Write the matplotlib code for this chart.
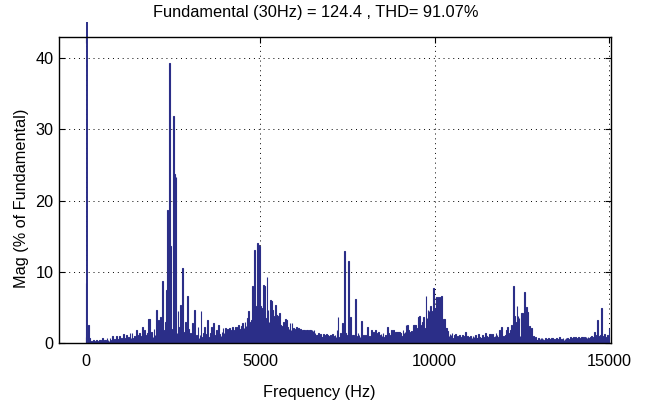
import matplotlib
matplotlib.use("Agg")
import matplotlib.pyplot as plt
import numpy as np
from matplotlib.patches import Rectangle

plt.rcParams["font.family"] = ["Liberation Sans", "DejaVu Sans"]

# harmonic magnitudes (% of fundamental), one value per 30 Hz bin, 0..15000 Hz
MAG = [
    8.5, 100, 2.6, 0.8, 0.3, 0.2, 0.3, 0.4, 0.2, 0.3,
    0.5, 0.3, 0.2, 0.5, 0.4, 0.3, 0.8, 0.3, 0.5, 0.4,
    0.8, 0.4, 0.3, 0.7, 0.5, 1.0, 0.4, 0.6, 0.5, 1.0,
    0.6, 0.4, 1.0, 0.5, 0.7, 0.6, 1.3, 0.5, 0.8, 1.2,
    0.6, 0.9, 1.5, 0.7, 1.4, 0.8, 1.0, 0.6, 1.8, 0.9,
    1.1, 1.4, 0.7, 1.0, 2.3, 0.9, 1.9, 1.2, 0.8, 1.5,
    3.4, 3.4, 1.0, 1.6, 0.9, 2.0, 1.1, 4.7, 1.5, 3.3,
    1.2, 3.7, 2.0, 8.8, 1.8, 1.4, 3.0, 7.5, 18.7, 5.0,
    39.3, 13.6, 2.0, 1.5, 31.9, 23.7, 23.3, 1.5, 4.5, 2.3,
    5.4, 1.0, 10.5, 1.6, 1.2, 3.0, 0.9, 6.7, 2.0, 0.8,
    1.5, 1.0, 2.8, 0.9, 4.7, 0.9, 1.2, 2.3, 0.8, 1.1,
    4.5, 0.9, 1.4, 2.3, 1.0, 1.3, 3.2, 0.9, 0.8, 1.5,
    2.3, 1.0, 2.8, 1.2, 0.9, 1.9, 1.4, 2.6, 1.3, 1.0,
    1.6, 2.1, 1.4, 2.1, 1.7, 2.0, 1.5, 2.1, 1.8, 1.6,
    2.3, 1.7, 1.9, 2.3, 2.2, 2.3, 2.6, 1.9, 2.0, 2.4,
    2.8, 2.2, 3.0, 2.4, 3.5, 4.5, 3.0, 2.6, 3.2, 8.0,
    3.0, 13.1, 5.2, 4.0, 14.0, 13.8, 13.6, 5.2, 3.5, 5.0,
    8.2, 8.0, 3.6, 9.3, 4.7, 3.0, 6.1, 5.9, 4.7, 3.0,
    3.8, 5.4, 4.0, 3.8, 3.2, 4.3, 2.6, 2.0, 2.4, 3.0,
    2.2, 3.4, 3.3, 2.3, 2.0, 2.8, 1.9, 2.8, 2.2, 1.9,
    2.0, 2.3, 1.8, 2.1, 1.9, 2.0, 1.6, 1.9, 1.8, 1.9,
    1.7, 1.9, 1.9, 1.6, 1.9, 1.8, 1.9, 1.7, 1.9, 1.5,
    1.2, 1.1, 1.4, 1.0, 1.3, 0.9, 0.9, 1.3, 1.2, 1.0,
    1.3, 1.1, 1.0, 0.9, 1.1, 0.7, 1.3, 1.0, 1.2, 0.9,
    1.9, 3.7, 0.9, 1.5, 1.2, 2.8, 1.4, 12.9, 1.4, 1.0,
    1.2, 11.6, 1.3, 3.7, 1.0, 1.2, 1.2, 0.9, 6.2, 1.0,
    1.4, 1.2, 0.9, 3.1, 1.0, 1.1, 0.9, 1.2, 1.0, 2.3,
    0.9, 1.0, 0.8, 1.9, 1.1, 1.6, 1.2, 1.9, 1.0, 1.4,
    1.6, 1.1, 1.3, 1.0, 1.5, 0.9, 1.1, 0.8, 2.3, 1.4,
    1.2, 1.0, 1.9, 1.3, 1.9, 1.1, 1.6, 1.6, 1.6, 1.6,
    1.6, 1.5, 1.0, 1.9, 1.4, 1.6, 2.6, 2.6, 1.8, 1.6,
    1.2, 1.7, 1.4, 2.6, 2.6, 2.6, 1.0, 2.2, 3.7, 3.8,
    2.6, 1.9, 3.0, 3.7, 2.2, 6.6, 3.5, 4.7, 4.5, 5.2,
    3.8, 4.5, 7.7, 5.0, 4.2, 6.5, 4.7, 6.5, 4.0, 6.5,
    6.7, 1.0, 3.4, 3.4, 2.1, 2.1, 1.7, 1.0, 1.3, 1.1,
    1.5, 0.7, 1.2, 1.3, 0.7, 1.0, 0.8, 1.2, 0.9, 0.7,
    1.1, 1.0, 0.8, 1.6, 0.7, 1.0, 0.8, 0.9, 1.0, 0.8,
    1.0, 0.9, 1.1, 0.7, 0.7, 1.3, 0.9, 0.7, 0.7, 1.1,
    0.9, 0.8, 1.5, 1.0, 0.8, 0.9, 1.3, 1.3, 0.7, 1.3,
    0.9, 1.0, 1.5, 1.2, 0.9, 1.9, 1.4, 2.3, 1.0, 0.9,
    1.0, 1.2, 1.9, 2.3, 0.9, 1.5, 1.9, 2.6, 1.9, 8.0,
    3.8, 3.0, 5.2, 3.8, 3.6, 1.0, 4.2, 4.2, 1.6, 7.2,
    2.3, 5.1, 4.4, 1.0, 2.4, 1.9, 2.1, 0.9, 1.0, 0.5,
    0.9, 0.5, 0.5, 0.8, 0.6, 0.7, 0.8, 0.6, 0.5, 0.8,
    0.6, 0.5, 0.8, 0.6, 0.4, 0.7, 0.8, 0.6, 0.5, 0.6,
    0.8, 0.5, 0.6, 0.9, 0.5, 0.6, 0.8, 0.5, 0.6, 0.7,
    0.8, 0.6, 0.5, 0.9, 0.6, 0.7, 0.9, 0.8, 0.9, 0.7,
    0.6, 0.9, 0.8, 0.6, 0.9, 0.9, 0.8, 0.9, 0.9, 0.7,
    0.9, 0.8, 0.9, 1.0, 0.7, 0.9, 1.6, 1.2, 0.9, 3.2,
    1.0, 0.7, 1.2, 4.9, 0.8, 1.0, 1.3, 0.5, 0.9, 1.1,
    2.1,
]
F_STEP = 30
FREQ = np.arange(len(MAG)) * F_STEP
XTICKS = [0, 5000, 10000, 15000]
YTICKS = [0, 10, 20, 30, 40]
TITLE = "Fundamental (30Hz) = 124.4 , THD= 91.07%"
BAR = "#2b2e88"

fig = plt.figure(figsize=(6.48, 4.08), dpi=100)
ax = fig.add_axes([59 / 648, 64.7 / 408, 551.7 / 648, 306.6 / 408])

bars = ax.bar(FREQ, MAG, width=0.8 * F_STEP, color=BAR, edgecolor=BAR,
              linewidth=0.8, zorder=3)
# the fundamental pokes a little above the axes box, like the original
clip = Rectangle((0, 0), 1, 1.049, transform=ax.transAxes, visible=False)
ax.add_patch(clip)
bars[1].set_clip_path(clip)
bars[1].set_linewidth(1.4)

ax.set_xlim(-775, 15050)
ax.set_ylim(0, 43)
ax.set_xticks(XTICKS)
ax.set_yticks(YTICKS)
ax.tick_params(direction="in", length=4, width=0.8, top=True, right=True,
               labelsize=11.7, colors="black")
ax.tick_params(axis="x", pad=8)
ax.tick_params(axis="y", pad=4)
ax.grid(True, color="black", linestyle=(0, (1, 4)), linewidth=0.7, zorder=1)
ax.set_axisbelow(True)
for s in ax.spines.values():
    s.set_linewidth(1.0)
    s.set_color("black")
    s.set_zorder(4)

fig.text(316 / 648, 1 - 13 / 408, TITLE, ha="center", va="center",
         fontsize=11.8)
fig.text(319 / 648, 1 - 392 / 408, "Frequency (Hz)", ha="center",
         va="center", fontsize=11.7)
fig.text(22 / 648, 1 - 198 / 408, "Mag (% of Fundamental)", ha="center",
         va="center", rotation=90, fontsize=11.7)

fig.savefig("out.png", dpi=100)
